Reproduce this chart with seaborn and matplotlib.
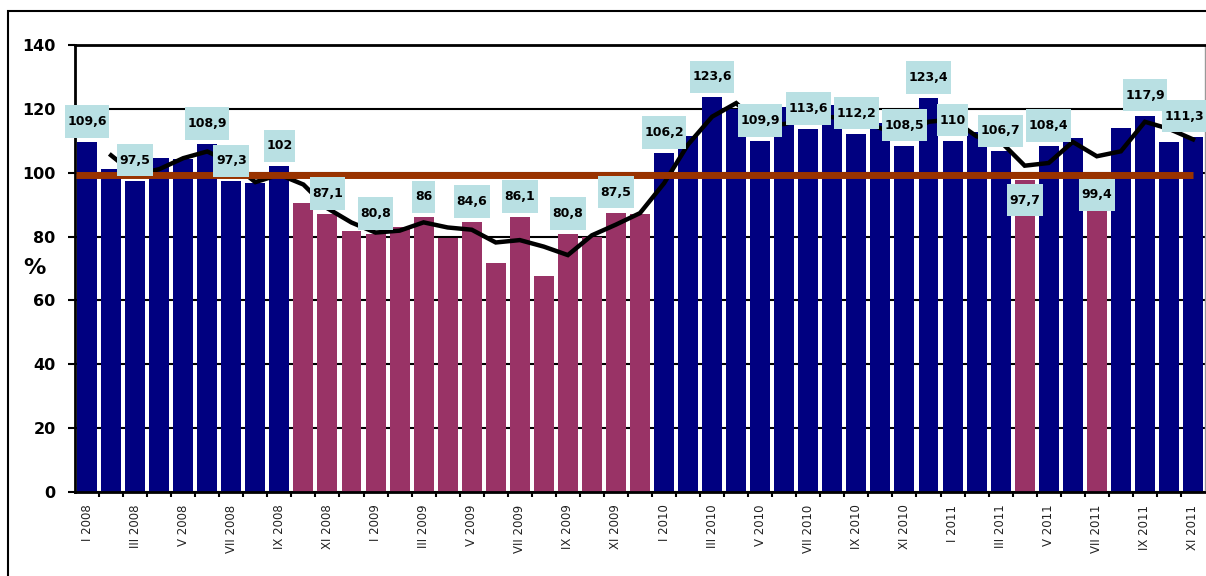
import numpy as np
import matplotlib.pyplot as plt
import seaborn as sns
from matplotlib.path import Path
from matplotlib.patches import Rectangle

# month labels I 2008 .. XI 2011
roman = ['I', 'II', 'III', 'IV', 'V', 'VI', 'VII', 'VIII', 'IX', 'X', 'XI', 'XII']
years = [2008, 2009, 2010, 2011]
months = [f"{r} {y}" for y in years for r in roman][:47]

# monthly index, %
values = [109.6, 101.3, 97.5, 104.7, 104.4, 108.9, 97.3, 96.8, 102.0, 90.6, 87.1, 81.7,
          80.8, 82.9, 86.0, 79.7, 84.6, 71.7, 86.1, 67.6, 80.8, 80.0, 87.5, 87.2,
          106.2, 111.5, 123.6, 120.0, 109.9, 120.6, 113.6, 121.2, 112.2, 115.7, 108.5, 123.4,
          110.0, 112.8, 106.7, 97.7, 108.4, 110.9, 99.4, 114.0, 117.9, 109.6, 111.3]

# bar group (colour) per month
phase = ['up'] * 9 + ['down'] * 15 + ['up'] * 15 + ['down'] + ['up'] * 2 + ['down'] + ['up'] * 4

# 2-month moving average trend (starts at II 2008)
trend = [105.45, 99.4, 101.1, 104.55, 106.65, 103.1, 97.05, 99.4, 96.3, 88.85, 84.4,
         81.25, 81.85, 84.45, 82.85, 82.15, 78.15, 78.9, 76.85, 74.2, 80.4, 83.75, 87.35,
         96.7, 108.85, 117.55, 121.8, 114.95, 115.25, 117.1, 117.4, 116.7, 113.95, 112.1, 115.95,
         116.7, 111.4, 109.75, 102.2, 103.05, 109.65, 105.15, 106.7, 115.95, 113.75, 110.45]

# months that carry a data label
labelled = [0, 2, 5, 6, 8, 10, 12, 14, 16, 18, 20, 22, 24, 26, 28, 30, 32, 34, 35,
            36, 38, 39, 40, 42, 44, 46]

ref_line = 99.2

colors = {'up': '#000080', 'down': '#993366'}


def label_box(x0, y0, width, height, mutation_size):
    px, py = 0.2 * mutation_size, 0.78 * mutation_size
    x0, y0 = x0 - px, y0 - py
    x1, y1 = x0 + width + 2 * px, y0 + height + 2 * py
    return Path([(x0, y0), (x1, y0), (x1, y1), (x0, y1), (x0, y0)], closed=True)


fig = plt.figure(figsize=(12.06, 5.76), dpi=100)
ax = fig.add_axes([75 / 1206, 84 / 576, 1130 / 1206, 447 / 576])

sns.barplot(x=months, y=values, hue=phase, palette=colors, dodge=False, width=0.83,
            saturation=1, legend=False, linewidth=0, ax=ax, zorder=2)

x = np.arange(len(months))
ax.plot(x[1:], trend, color='black', lw=3.2, zorder=3, solid_joinstyle='miter')
ax.hlines(ref_line, -0.46, len(months) - 1, color='#993300', lw=5, zorder=4)

for i in labelled:
    v = values[i]
    txt = f"{v:g}".replace('.', ',')
    dy = -14.5 if i in (39, 42) else 14.8
    dx = -6.5 if i == len(months) - 1 else 0
    ax.annotate(txt, xy=(i, v), xytext=(dx, dy), textcoords='offset points',
                ha='center', va='center', fontsize=9, fontweight='bold',
                family='DejaVu Sans', color='black', zorder=6,
                bbox=dict(boxstyle=label_box, fc='#B9E0E3', ec='none'))

ax.set_xlim(-0.5, len(months) - 0.5)
ax.set_ylim(0, 140)
ax.set_yticks(range(0, 141, 20))
ax.yaxis.grid(True, color='black', lw=1.5, zorder=0)
ax.set_axisbelow(True)

ax.set_xticks(x[::2])
ax.set_xticklabels(months[::2], rotation=90, fontsize=8.5, color='#222222')
ax.set_xticks(x[:-1] + 0.5, minor=True)
ax.tick_params(axis='x', which='major', length=0, pad=9)
ax.tick_params(axis='x', which='minor', length=3.5, width=1.5, direction='out')
ax.tick_params(axis='y', length=5, width=1.5, pad=9, labelsize=11.5)
for t in ax.get_yticklabels():
    t.set_fontweight('bold')

ax.set_xlabel('')
ax.set_ylabel('%', rotation=0, fontsize=16, fontweight='bold', ha='center', va='center')
ax.yaxis.set_label_coords(-0.036, 0.5)

for side in ['left', 'bottom', 'top']:
    ax.spines[side].set_color('black')
    ax.spines[side].set_linewidth(2)
ax.spines['right'].set_color('#999999')
ax.spines['right'].set_linewidth(1)

# outer frame of the chart area
fig.add_artist(Rectangle((8.2 / 1206, -1), 2, 1 + (1 - 10.8 / 576), transform=fig.transFigure,
                         fill=False, ec='black', lw=1.5))

plt.savefig('out.png', dpi=100)
